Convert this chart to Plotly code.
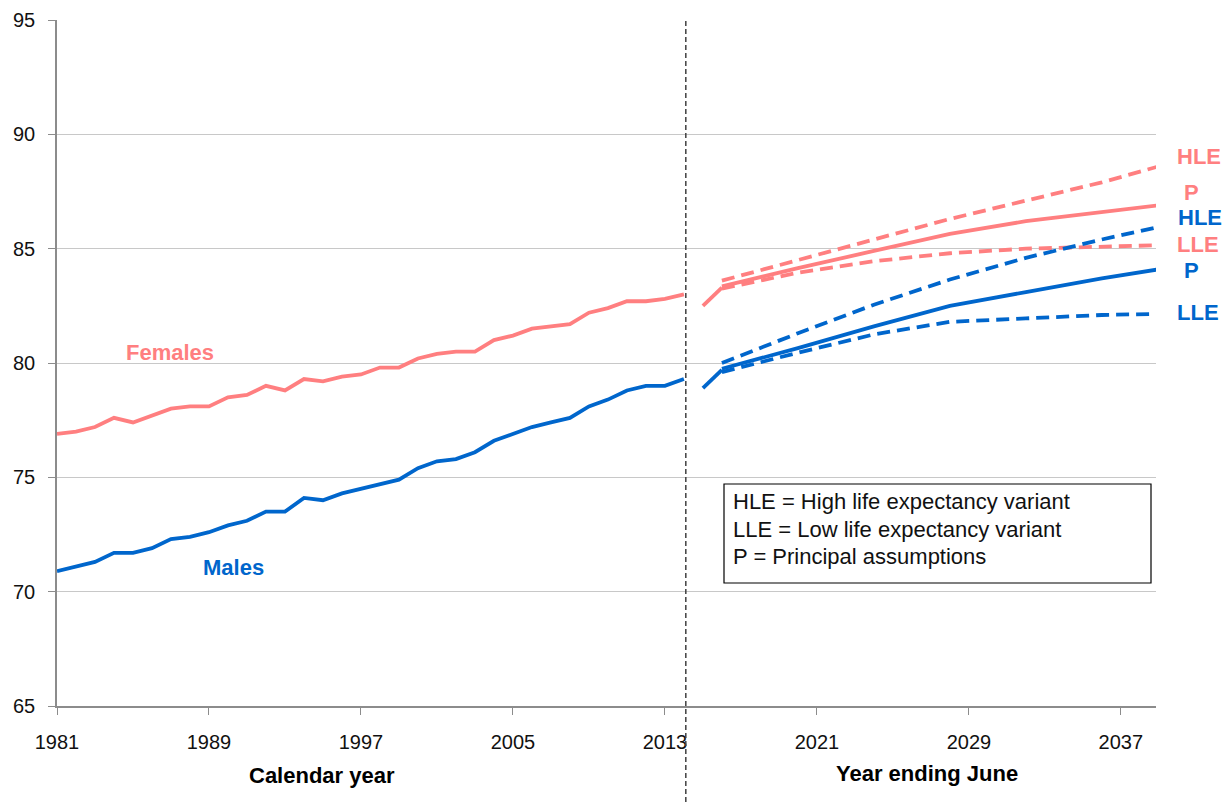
import plotly.graph_objects as go

# ---- data ----
hist_years = list(range(1981, 2015))
females_hist = [76.9, 77.0, 77.2, 77.6, 77.4, 77.7, 78.0, 78.1, 78.1, 78.5,
                78.6, 79.0, 78.8, 79.3, 79.2, 79.4, 79.5, 79.8, 79.8, 80.2,
                80.4, 80.5, 80.5, 81.0, 81.2, 81.5, 81.6, 81.7, 82.2, 82.4,
                82.7, 82.7, 82.8, 83.0]
males_hist = [70.9, 71.1, 71.3, 71.7, 71.7, 71.9, 72.3, 72.4, 72.6, 72.9,
              73.1, 73.5, 73.5, 74.1, 74.0, 74.3, 74.5, 74.7, 74.9, 75.4,
              75.7, 75.8, 76.1, 76.6, 76.9, 77.2, 77.4, 77.6, 78.1, 78.4,
              78.8, 79.0, 79.0, 79.3]

proj_start_years = [2015, 2016]
females_start = [82.5, 83.3]
males_start = [78.9, 79.7]

proj_years = [2016, 2020, 2024, 2028, 2032, 2036, 2039]
females_hle = [83.6, 84.5, 85.4, 86.3, 87.1, 87.9, 88.6]
females_p = [83.35, 84.15, 84.9, 85.65, 86.2, 86.6, 86.9]
females_lle = [83.25, 83.95, 84.45, 84.8, 85.0, 85.1, 85.15]
males_hle = [80.0, 81.3, 82.55, 83.65, 84.6, 85.4, 85.95]
males_p = [79.75, 80.65, 81.6, 82.5, 83.1, 83.7, 84.1]
males_lle = [79.6, 80.45, 81.25, 81.8, 81.95, 82.1, 82.15]

x_ticks = [1981, 1989, 1997, 2005, 2013, 2021, 2029, 2037]
y_ticks = [65, 70, 75, 80, 85, 90, 95]

PINK = "#ff7f80"
BLUE = "#0066cc"
LW = 3.8
DASH = "13px,7px"
FONT = "Liberation Sans, Arial"

fig = go.Figure()

def add(x, y, color, dash="solid"):
    fig.add_trace(go.Scatter(x=x, y=y, mode="lines",
                             line=dict(color=color, width=LW, dash=dash),
                             showlegend=False, hoverinfo="skip"))

add(hist_years, females_hist, PINK)
add(hist_years, males_hist, BLUE)
add(proj_start_years, females_start, PINK)
add(proj_start_years, males_start, BLUE)
add(proj_years, females_hle, PINK, DASH)
add(proj_years, females_lle, PINK, DASH)
add(proj_years, females_p, PINK)
add(proj_years, males_hle, BLUE, DASH)
add(proj_years, males_lle, BLUE, DASH)
add(proj_years, males_p, BLUE)

# page body has an 8px margin; work in window pixel coords
OFF = 8
W, H = 1230 - OFF, 803 - OFF
PL, PR, PT, PB = 57, 1156, 20, 706   # plot area in window coords
L, R, T, B = PL - OFF, W - (PR - OFF), PT - OFF, H - (PB - OFF)
pw, ph = PR - PL, PB - PT

def px(xp):
    return (xp - PL) / pw

def py(yp):
    return (PB - yp) / ph

# divider line
fig.add_shape(type="line", xref="x", yref="paper", x0=2014.1, x1=2014.1,
              y0=py(802), y1=py(18),
              line=dict(color="#404040", width=1.5, dash="5px,3px"))

# legend box
fig.add_shape(type="rect", xref="paper", yref="paper",
              x0=px(724), x1=px(1151), y0=py(583), y1=py(484),
              line=dict(color="#000000", width=1.2), fillcolor="white")

annos = []
for txt, yy in [("HLE = High life expectancy variant", 502),
                ("LLE = Low life expectancy variant", 529),
                ("P = Principal assumptions", 556)]:
    annos.append(dict(text=txt, xref="paper", yref="paper", x=px(731), y=py(yy),
                      xanchor="left", yanchor="middle", showarrow=False,
                      font=dict(family=FONT, size=22, color="#111")))

# series labels
for txt, xx, yy, col in [("Females", 170, 352, PINK), ("Males", 233, 567, BLUE),
                         ("HLE", 1199, 157, PINK), ("P", 1191, 193, PINK),
                         ("HLE", 1200, 218, BLUE), ("LLE", 1198, 244, PINK),
                         ("P", 1191, 270, BLUE), ("LLE", 1198, 312, BLUE)]:
    annos.append(dict(text="<b>%s</b>" % txt, xref="paper", yref="paper",
                      x=px(xx), y=py(yy), xanchor="center", yanchor="middle",
                      showarrow=False,
                      font=dict(family=FONT, size=22, color=col)))

# axis titles
for txt, xx, yy in [("Calendar year", 322, 776), ("Year ending June", 927, 773)]:
    annos.append(dict(text="<b>%s</b>" % txt, xref="paper", yref="paper",
                      x=px(xx), y=py(yy), xanchor="center", yanchor="middle",
                      showarrow=False,
                      font=dict(family=FONT, size=22, color="#000")))

fig.update_layout(
    width=W, height=H,
    margin=dict(l=L, r=R, t=T, b=B, autoexpand=False),
    paper_bgcolor="white", plot_bgcolor="white",
    annotations=annos,
    xaxis=dict(range=[1981, 2038.85], tickvals=x_ticks,
               ticktext=[str(v) for v in x_ticks],
               showgrid=False, zeroline=False, showline=True,
               linecolor="#8c8c8c", linewidth=1.5,
               ticks="outside", ticklen=7, tickcolor="#8c8c8c",
               ticklabelstandoff=10,
               tickfont=dict(family=FONT, size=20, color="#111")),
    yaxis=dict(range=[65, 95], tickvals=y_ticks,
               showgrid=True, gridcolor="#c8c8c8", gridwidth=1.2,
               zeroline=False, showline=True, linecolor="#8c8c8c", linewidth=1.5,
               ticks="outside", ticklen=7, tickcolor="#8c8c8c",
               ticklabelstandoff=9,
               tickfont=dict(family=FONT, size=20, color="#111")),
)

fig.write_html("out.html")
